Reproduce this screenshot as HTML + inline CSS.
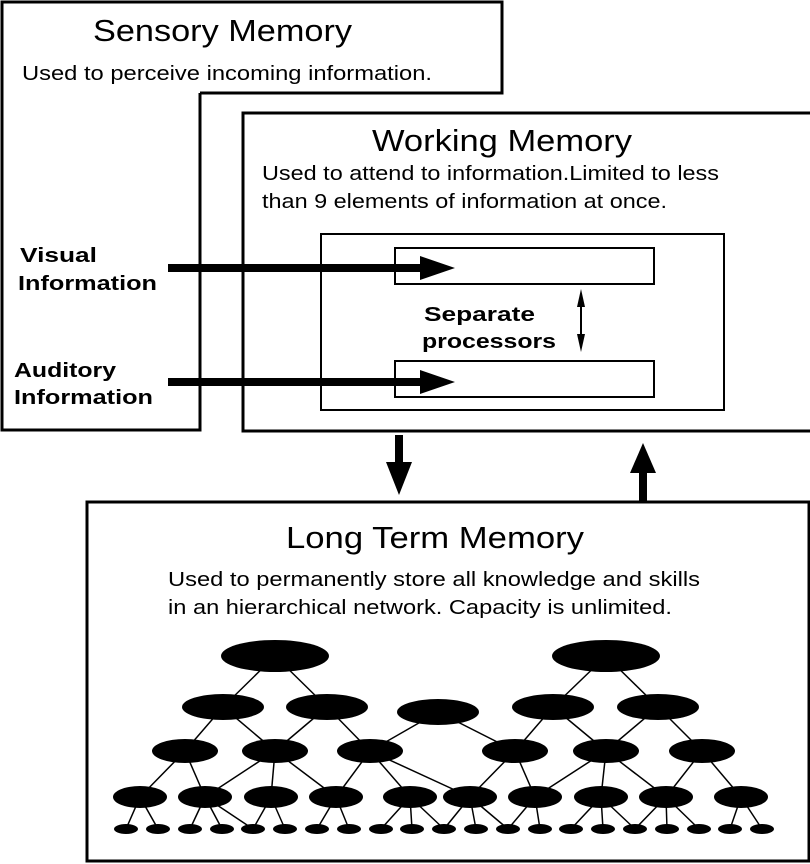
<!DOCTYPE html>
<html><head><style>html,body{margin:0;padding:0;background:#fff}svg{display:block}</style></head><body>
<svg width="810" height="864" viewBox="0 0 810 864" xmlns="http://www.w3.org/2000/svg" font-family="Liberation Sans, sans-serif">
<g fill="none" stroke="#000" stroke-width="3">
<polyline points="200,93 502,93 502,2 2,2 2,430 200,430 200,93"/>
<rect x="243" y="113" width="570" height="318"/>
<rect x="87" y="502" width="722" height="359"/>
</g>
<g fill="none" stroke="#000" stroke-width="2">
<rect x="321" y="234" width="403" height="176"/>
<rect x="395" y="248" width="259" height="36"/>
<rect x="395" y="361" width="259" height="36"/>
</g>
<g fill="#000">
<rect x="168" y="264" width="260" height="8"/><polygon points="420,256 455,268 420,280"/>
<rect x="168" y="378" width="260" height="8"/><polygon points="420,370 455,382 420,394"/>
<rect x="395" y="435" width="8" height="30"/><polygon points="386,462 412,462 399,495"/>
<rect x="639" y="470" width="8" height="32"/><polygon points="630,473 656,473 643,443"/>
<polygon points="581,289 577,307 585,307"/><rect x="580" y="305" width="2" height="30"/><polygon points="581,352 577,334 585,334"/>
</g>
<g fill="#000">
<text x="93" y="41" font-size="31" textLength="259" lengthAdjust="spacingAndGlyphs">Sensory Memory</text>
<text x="22" y="80" font-size="20" textLength="410" lengthAdjust="spacingAndGlyphs">Used to perceive incoming information.</text>
<text x="372" y="151" font-size="31" textLength="260" lengthAdjust="spacingAndGlyphs">Working Memory</text>
<text x="262" y="180" font-size="20" textLength="457" lengthAdjust="spacingAndGlyphs">Used to attend to information.Limited to less</text>
<text x="262" y="208" font-size="20" textLength="405" lengthAdjust="spacingAndGlyphs">than 9 elements of information at once.</text>
<g font-weight="bold" font-size="20">
<text x="20" y="262" textLength="77" lengthAdjust="spacingAndGlyphs">Visual</text>
<text x="18" y="290" textLength="139" lengthAdjust="spacingAndGlyphs">Information</text>
<text x="14" y="377" textLength="102" lengthAdjust="spacingAndGlyphs">Auditory</text>
<text x="14" y="404" textLength="139" lengthAdjust="spacingAndGlyphs">Information</text>
<text x="424" y="321" textLength="111" lengthAdjust="spacingAndGlyphs">Separate</text>
<text x="422" y="348" textLength="134" lengthAdjust="spacingAndGlyphs">processors</text>
</g>
<text x="286" y="548" font-size="31" textLength="298" lengthAdjust="spacingAndGlyphs">Long Term Memory</text>
<text x="168" y="586" font-size="20" textLength="532" lengthAdjust="spacingAndGlyphs">Used to permanently store all knowledge and skills</text>
<text x="168" y="614" font-size="20" textLength="504" lengthAdjust="spacingAndGlyphs">in an hierarchical network. Capacity is unlimited.</text>
</g>
<g stroke="#000" stroke-width="1.5">
<line x1="275" y1="656" x2="223" y2="707"/><line x1="275" y1="656" x2="327" y2="707"/>
<line x1="606" y1="656" x2="553" y2="707"/><line x1="606" y1="656" x2="658" y2="707"/>
<line x1="223" y1="707" x2="185" y2="751"/><line x1="223" y1="707" x2="275" y2="751"/>
<line x1="327" y1="707" x2="275" y2="751"/><line x1="327" y1="707" x2="370" y2="751"/>
<line x1="438" y1="712" x2="370" y2="751"/><line x1="438" y1="712" x2="515" y2="751"/>
<line x1="553" y1="707" x2="515" y2="751"/><line x1="553" y1="707" x2="606" y2="751"/>
<line x1="658" y1="707" x2="606" y2="751"/><line x1="658" y1="707" x2="702" y2="751"/>
<line x1="185" y1="751" x2="140" y2="797"/><line x1="185" y1="751" x2="205" y2="797"/>
<line x1="275" y1="751" x2="205" y2="797"/><line x1="275" y1="751" x2="271" y2="797"/><line x1="275" y1="751" x2="336" y2="797"/>
<line x1="370" y1="751" x2="336" y2="797"/><line x1="370" y1="751" x2="410" y2="797"/><line x1="370" y1="751" x2="470" y2="797"/>
<line x1="515" y1="751" x2="470" y2="797"/><line x1="515" y1="751" x2="535" y2="797"/>
<line x1="606" y1="751" x2="535" y2="797"/><line x1="606" y1="751" x2="601" y2="797"/><line x1="606" y1="751" x2="666" y2="797"/>
<line x1="702" y1="751" x2="666" y2="797"/><line x1="702" y1="751" x2="741" y2="797"/>
<line x1="140" y1="797" x2="126" y2="829"/><line x1="140" y1="797" x2="158" y2="829"/>
<line x1="205" y1="797" x2="190" y2="829"/><line x1="205" y1="797" x2="222" y2="829"/><line x1="205" y1="797" x2="253" y2="829"/>
<line x1="271" y1="797" x2="253" y2="829"/><line x1="271" y1="797" x2="285" y2="829"/>
<line x1="336" y1="797" x2="317" y2="829"/><line x1="336" y1="797" x2="349" y2="829"/>
<line x1="410" y1="797" x2="381" y2="829"/><line x1="410" y1="797" x2="412" y2="829"/><line x1="410" y1="797" x2="444" y2="829"/>
<line x1="470" y1="797" x2="444" y2="829"/><line x1="470" y1="797" x2="476" y2="829"/><line x1="470" y1="797" x2="508" y2="829"/>
<line x1="535" y1="797" x2="540" y2="829"/><line x1="535" y1="797" x2="508" y2="829"/>
<line x1="601" y1="797" x2="571" y2="829"/><line x1="601" y1="797" x2="603" y2="829"/><line x1="601" y1="797" x2="635" y2="829"/>
<line x1="666" y1="797" x2="635" y2="829"/><line x1="666" y1="797" x2="667" y2="829"/><line x1="666" y1="797" x2="699" y2="829"/>
<line x1="741" y1="797" x2="730" y2="829"/><line x1="741" y1="797" x2="762" y2="829"/>
</g>
<g fill="#000">
<ellipse cx="275" cy="656" rx="54" ry="16"/><ellipse cx="606" cy="656" rx="54" ry="16"/>
<ellipse cx="223" cy="707" rx="41" ry="13"/><ellipse cx="327" cy="707" rx="41" ry="13"/><ellipse cx="438" cy="712" rx="41" ry="13"/><ellipse cx="553" cy="707" rx="41" ry="13"/><ellipse cx="658" cy="707" rx="41" ry="13"/>
<ellipse cx="185" cy="751" rx="33" ry="12"/><ellipse cx="275" cy="751" rx="33" ry="12"/><ellipse cx="370" cy="751" rx="33" ry="12"/><ellipse cx="515" cy="751" rx="33" ry="12"/><ellipse cx="606" cy="751" rx="33" ry="12"/><ellipse cx="702" cy="751" rx="33" ry="12"/>
<ellipse cx="140" cy="797" rx="27" ry="11"/><ellipse cx="205" cy="797" rx="27" ry="11"/><ellipse cx="271" cy="797" rx="27" ry="11"/><ellipse cx="336" cy="797" rx="27" ry="11"/><ellipse cx="410" cy="797" rx="27" ry="11"/><ellipse cx="470" cy="797" rx="27" ry="11"/><ellipse cx="535" cy="797" rx="27" ry="11"/><ellipse cx="601" cy="797" rx="27" ry="11"/><ellipse cx="666" cy="797" rx="27" ry="11"/><ellipse cx="741" cy="797" rx="27" ry="11"/>
<ellipse cx="126" cy="829" rx="12" ry="5"/><ellipse cx="158" cy="829" rx="12" ry="5"/><ellipse cx="190" cy="829" rx="12" ry="5"/><ellipse cx="222" cy="829" rx="12" ry="5"/><ellipse cx="253" cy="829" rx="12" ry="5"/><ellipse cx="285" cy="829" rx="12" ry="5"/><ellipse cx="317" cy="829" rx="12" ry="5"/><ellipse cx="349" cy="829" rx="12" ry="5"/><ellipse cx="381" cy="829" rx="12" ry="5"/><ellipse cx="412" cy="829" rx="12" ry="5"/><ellipse cx="444" cy="829" rx="12" ry="5"/><ellipse cx="476" cy="829" rx="12" ry="5"/><ellipse cx="508" cy="829" rx="12" ry="5"/><ellipse cx="540" cy="829" rx="12" ry="5"/><ellipse cx="571" cy="829" rx="12" ry="5"/><ellipse cx="603" cy="829" rx="12" ry="5"/><ellipse cx="635" cy="829" rx="12" ry="5"/><ellipse cx="667" cy="829" rx="12" ry="5"/><ellipse cx="699" cy="829" rx="12" ry="5"/><ellipse cx="730" cy="829" rx="12" ry="5"/><ellipse cx="762" cy="829" rx="12" ry="5"/>
</g>
</svg>
</body></html>
